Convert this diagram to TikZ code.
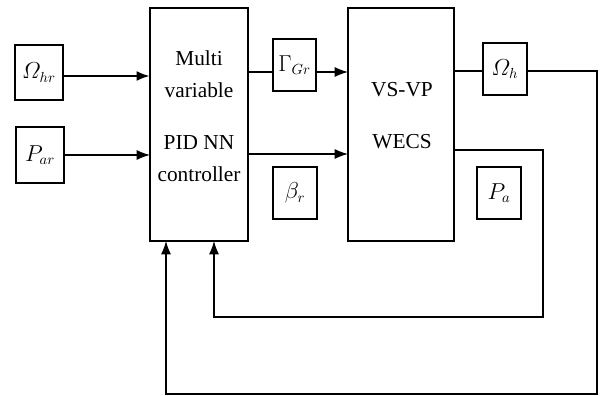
\documentclass[tikz,border=0pt]{standalone}
\usepackage{amsmath}
\usepackage{fontspec}
\setmainfont{Liberation Serif}
\usetikzlibrary{arrows.meta}
\begin{document}
\begin{tikzpicture}[x=0.75pt,y=-0.75pt,
  blk/.style={draw,line width=0.9pt,inner sep=0pt,outer sep=0pt},
  lbl/.style={draw,line width=0.9pt,inner sep=0pt,outer sep=0pt,font=\fontsize{16}{18}\selectfont},
  txt/.style={align=center,font=\fontsize{16}{24}\selectfont},
  wire/.style={line width=0.9pt},
  arr/.style={line width=0.9pt,-{Latex[length=10pt,width=7.5pt]}},
  thick arr/.style={line width=2.2pt,-{Latex[length=10pt,width=7.5pt]}}]
\useasboundingbox (0,0) rectangle (601,396);
\node[blk,minimum width=73.5pt,minimum height=174.75pt] (ctrl) at (199,124.5) {};
\node[txt] (t1) at (199,74) {Multi\\variable};
\node[txt] (t2) at (199,159) {PID NN\\controller};
\node[blk,minimum width=79.5pt,minimum height=174.75pt] (wecs) at (401,124.5) {};
\node[txt,font=\fontsize{16}{39}\selectfont] (t3) at (402,116) {VS-VP\\WECS};
\node[lbl,minimum width=36pt,minimum height=41.25pt] (ohr) at (39,72.5) {$\varOmega_{hr}$};
\node[lbl,minimum width=36pt,minimum height=42pt] (par) at (40,155) {$P_{ar}$};
\node[lbl,minimum width=32.25pt,minimum height=39pt] (gam) at (294.5,65) {$\Gamma_{Gr}$};
\node[lbl,minimum width=33pt,minimum height=39pt] (beta) at (295,193) {$\beta_r$};
\node[lbl,minimum width=33pt,minimum height=39pt] (oh) at (505,69) {$\varOmega_h$};
\node[lbl,minimum width=33pt,minimum height=39pt] (pa) at (499,193) {$P_a$};
\coordinate (c1) at (597,71);
\coordinate (c2) at (597,394);
\coordinate (c3) at (166,394);
\coordinate (d1) at (543,150);
\coordinate (d2) at (543,317);
\coordinate (d3) at (214,317);
\draw[thick arr] (ohr.east |- 0,76) -- (ctrl.west |- 0,76);
\draw[arr] (par.east |- 0,155) -- (ctrl.west |- 0,155);
\draw[wire] (ctrl.east |- 0,72) -- (gam.west |- 0,72);
\draw[arr] (gam.east |- 0,72) -- (wecs.west |- 0,72);
\draw[arr] (ctrl.east |- 0,154) -- (wecs.west |- 0,154);
\draw[wire] (wecs.east |- c1) -- (oh.west |- c1);
\draw[arr] (oh.east |- c1) -- (c1) -- (c2) -- (c3) -- (c3 |- ctrl.south);
\draw[arr] (wecs.east |- d1) -- (d1) -- (d2) -- (d3) -- (d3 |- ctrl.south);
\end{tikzpicture}
\end{document}
